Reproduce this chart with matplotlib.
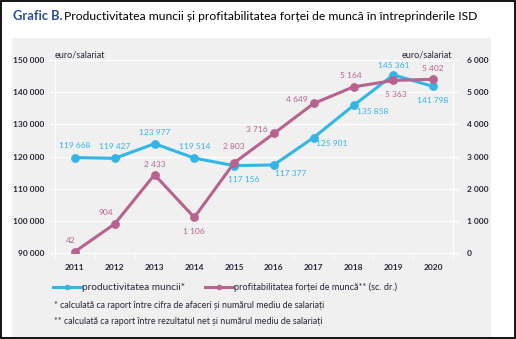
import numpy as np
import matplotlib
matplotlib.use("Agg")
import matplotlib.pyplot as plt
from matplotlib.patches import Rectangle
from matplotlib.lines import Line2D

plt.rcParams['font.family'] = ['Lato', 'DejaVu Sans']

# date
ani = ['2011', '2012', '2013', '2014', '2015', '2016', '2017', '2018', '2019', '2020']
productivitate = [119668, 119427, 123977, 119514, 117156, 117377, 125901, 135858, 145361, 141798]
profitabilitate = [42, 904, 2433, 1106, 2803, 3716, 4649, 5164, 5363, 5402]
ticks_st = [90000, 100000, 110000, 120000, 130000, 140000, 150000]
ticks_dr = [0, 1000, 2000, 3000, 4000, 5000, 6000]

ALBASTRU = '#33b5e5'
MOV = '#b7628f'
FUNDAL = '#f0f0f0'
TEXT = '#26263a'

def fmt(v):
    return '{:,}'.format(v).replace(',', ' ')

fig = plt.figure(figsize=(5.16, 3.39), dpi=100)
W, H = 516, 339

# chenar negru si panou gri
fig.patches.append(Rectangle((12 / W, 1 / H), (491 - 12) / W, (337 - 37) / H,
                             transform=fig.transFigure, facecolor=FUNDAL, edgecolor='none', zorder=-5))
fig.patches.append(Rectangle((0.5 / W, 1.2 / H), (514.5 - 0.5) / W, (338 - 1.2) / H,
                             transform=fig.transFigure, facecolor='none', edgecolor='black', lw=1.3, zorder=5))

fig.text(13 / W, 1 - 16 / H, 'Grafic B.', fontsize=9.3, fontweight='bold', color='#2c4c8f', va='center')
fig.text(64 / W, 1 - 16 / H, 'Productivitatea muncii și profitabilitatea forței de muncă în întreprinderile ISD',
         fontsize=8.75, color='black', va='center')

ax = fig.add_axes([55 / W, 1 - 253 / H, (453 - 55) / W, (253 - 60) / H])
ax2 = ax.twinx()
ax.patch.set_visible(False)
ax2.patch.set_visible(False)

x = np.arange(len(ani))
ax.set_xlim(-0.5, len(ani) - 0.5)
ax.set_ylim(90000, 150000)
ax2.set_ylim(0, 6000)

for t in ticks_st:
    ax.axhline(t, color='white', lw=1.0, zorder=0)

for a in (ax, ax2):
    for s in a.spines.values():
        s.set_visible(False)

ax.spines['bottom'].set_visible(True)
ax.spines['bottom'].set_color('white')
ax.spines['left'].set_visible(True)
ax.spines['left'].set_color('white')
ax2.spines['right'].set_visible(True)
ax2.spines['right'].set_color('white')

ax.set_yticks(ticks_st)
ax.set_yticklabels([fmt(t) for t in ticks_st], fontsize=6, color=TEXT, fontweight='bold')
ax2.set_yticks(ticks_dr)
ax2.set_yticklabels([fmt(t) for t in ticks_dr], fontsize=6, color=TEXT, fontweight='bold')
ax.set_xticks(x)
ax.set_xticklabels(ani, fontsize=6, color=TEXT, fontweight='bold')
ax.set_xticks(np.arange(-0.5, len(ani)), minor=True)
ax.tick_params(axis='x', which='major', length=0, pad=8)
ax.tick_params(axis='x', which='minor', length=4, color='white', direction='out')
ax.tick_params(axis='y', length=4, color='white', pad=4)
ax2.tick_params(axis='y', length=4, color='white', pad=6)

ax.plot(x, productivitate, color=ALBASTRU, lw=2.2, marker='o', ms=5.3, zorder=4)
ax2.plot(x, profitabilitate, color=MOV, lw=2.2, marker='o', ms=5.3, zorder=4)

# etichete (dx, dy in puncte)
off_p = [(0, 8.5), (0, 8.5), (0, 8), (0, 8.5), (7, -10), (12, -6.5), (13, -4.5), (14, -4), (0, 7), (0, -10.5)]
for i, v in enumerate(productivitate):
    dx, dy = off_p[i]
    ax.annotate(fmt(v), (x[i], v), xytext=(dx, dy), textcoords='offset points',
                ha='center', va='center', fontsize=6, color=ALBASTRU)

off_m = [(-3, 8), (-6.5, 8), (0, 7.5), (0, -10), (0, 12), (-12, 3), (-12.5, 2.5), (-2, 8.5), (2, -10), (0, 8)]
for i, v in enumerate(profitabilitate):
    dx, dy = off_m[i]
    ax2.annotate(fmt(v), (x[i], v), xytext=(dx, dy), textcoords='offset points',
                 ha='center', va='center', fontsize=6, color=MOV)

fig.text(55 / W, 1 - 55 / H, 'euro/salariat', fontsize=6.5, color=TEXT, va='center', ha='left')
fig.text(452 / W, 1 - 55 / H, 'euro/salariat', fontsize=6.5, color=TEXT, va='center', ha='right')

# legenda
fig.add_artist(Line2D([53 / W, 81 / W], [1 - 287 / H] * 2, color=ALBASTRU, lw=2.2, transform=fig.transFigure))
fig.add_artist(Line2D([67 / W], [1 - 287 / H], color=ALBASTRU, marker='o', ms=3, transform=fig.transFigure))
fig.text(82 / W, 1 - 287 / H, 'productivitatea muncii*', fontsize=7.2, color=TEXT, va='center')
fig.add_artist(Line2D([205 / W, 233 / W], [1 - 287 / H] * 2, color=MOV, lw=2.2, transform=fig.transFigure))
fig.add_artist(Line2D([219 / W], [1 - 287 / H], color=MOV, marker='o', ms=3, transform=fig.transFigure))
fig.text(234 / W, 1 - 287 / H, 'profitabilitatea forței de muncă** (sc. dr.)', fontsize=6.6, color=TEXT, va='center')

fig.text(54 / W, 1 - 305 / H, '* calculată ca raport între cifra de afaceri și numărul mediu de salariați',
         fontsize=6.4, color=TEXT, va='center')
fig.text(54 / W, 1 - 322 / H, '** calculată ca raport între rezultatul net și numărul mediu de salariați',
         fontsize=6.4, color=TEXT, va='center')

fig.savefig('out.png', dpi=100)
